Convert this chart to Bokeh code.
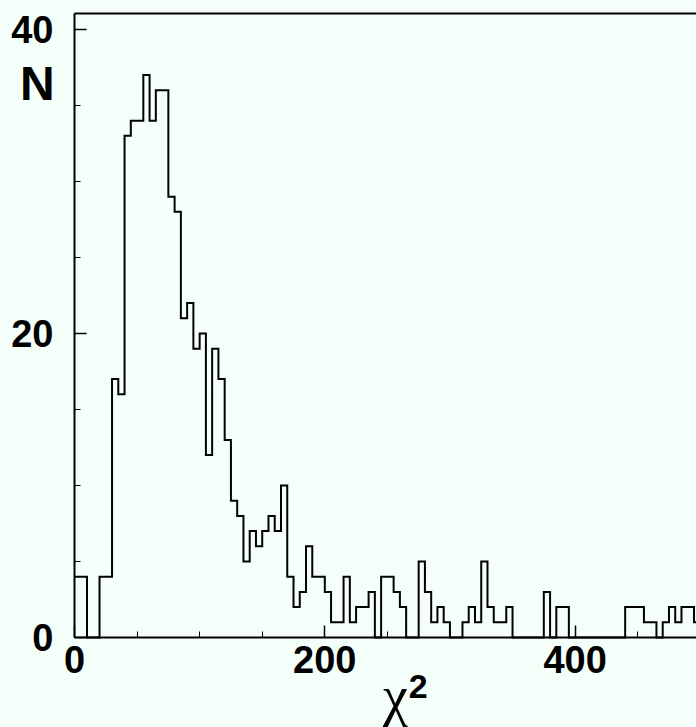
from bokeh.plotting import figure
from bokeh.models import Range1d, FixedTicker, Label, LinearAxis
from bokeh.embed import file_html
from bokeh.resources import INLINE

# ---- data ----
BIN_WIDTH = 5
counts = [4, 4, 0, 0, 4, 4, 17, 16, 33, 34, 34, 37, 34, 36, 36, 29, 28,
          21, 22, 19, 20, 12, 19, 17, 13, 9, 8, 5, 7, 6, 7, 8, 7,
          10, 4, 2, 3, 6, 4, 4, 3, 1, 1, 4, 1, 2, 2, 3, 0,
          4, 4, 3, 2, 0, 0, 5, 3, 1, 2, 1, 0, 0, 1, 2, 1,
          5, 2, 1, 1, 2, 0, 0, 0, 0, 0, 3, 0, 2, 2, 0,
          0, 0, 0, 0, 0, 0, 0, 0, 2, 2, 2, 1, 1, 0, 1, 2, 1, 2, 2, 1]
x_major = [0, 200, 400]
x_minor = [50, 100, 150, 250, 300, 350, 450]
y_major = [0, 20, 40]
y_minor = [5, 10, 15, 25, 30, 35]
X_MAX = 500
Y_TOP = 41.05

edges = [i * BIN_WIDTH for i in range(len(counts) + 1)]
step_y = counts + [counts[-1]]

BG = "#f5fffa"
# the frame covers the whole canvas; axes are pinned at x=0 / y=0
p = figure(width=696, height=727, output_backend="svg", toolbar_location=None,
           x_range=Range1d(-59.12, 497), y_range=Range1d(-5.92, 41.905),
           min_border=0)
p.background_fill_color = BG
p.border_fill_color = BG
p.outline_line_color = None
p.grid.visible = False

p.step(x=edges, y=step_y, mode="after", line_color="black", line_width=2,
       line_join="miter")

for ax, maj, mnr, loc, bnds in ((p.xaxis[0], x_major, x_minor, 0, (0, X_MAX)),
                                (p.yaxis[0], y_major, y_minor, 0, (0, Y_TOP))):
    ax.fixed_location = loc
    ax.bounds = bnds
    ax.ticker = FixedTicker(ticks=maj, minor_ticks=mnr)
    ax.axis_line_width = 2
    ax.axis_line_color = "black"
    ax.major_tick_out = 0
    ax.major_tick_in = 12
    ax.minor_tick_out = 0
    ax.minor_tick_in = 6
    ax.major_tick_line_width = 1.5
    ax.minor_tick_line_width = 1
    ax.major_label_text_font = "Liberation Sans"
    ax.major_label_text_font_style = "bold"
    ax.major_label_text_font_size = "38px"
    ax.major_label_text_color = "black"

p.xaxis[0].major_label_standoff = 8
p.yaxis[0].major_label_standoff = 21

# top frame line
top = LinearAxis(fixed_location=Y_TOP, bounds=(0, X_MAX), ticker=FixedTicker(ticks=[]),
                 axis_line_width=2, axis_line_color="black",
                 major_tick_in=0, major_tick_out=0, minor_tick_in=0, minor_tick_out=0)
p.add_layout(top, "above")

p.add_layout(Label(x=-29.6, y=36.45, text="N", text_align="center",
                   text_baseline="middle", text_font="Liberation Sans",
                   text_font_style="bold", text_font_size="48px", text_color="black"))
p.add_layout(Label(x=256.5, y=-3.85, text="χ", text_align="center",
                   text_baseline="alphabetic", text_font="Liberation Serif",
                   text_font_size="56px", text_color="black"))
p.add_layout(Label(x=267, y=-3.2, text="2", text_align="left",
                   text_baseline="alphabetic", text_font="Liberation Sans",
                   text_font_style="bold", text_font_size="34px", text_color="black"))

open("out.html", "w").write(file_html(p, INLINE))
